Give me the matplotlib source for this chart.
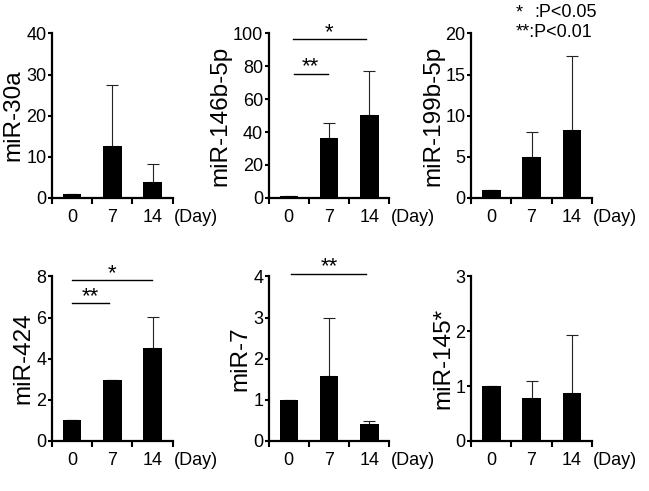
import matplotlib.pyplot as plt
from matplotlib.ticker import FixedLocator

plt.rcParams['font.family'] = ['Liberation Sans', 'DejaVu Sans']

DAYS = ["0", "7", "14"]

names = ["miR-30a", "miR-146b-5p", "miR-199b-5p", "miR-424", "miR-7", "miR-145*"]
means = [
    [1.0, 12.7, 3.9],
    [1.0, 36.5, 50.5],
    [1.0, 5.0, 8.3],
    [1.0, 2.94, 4.5],
    [1.0, 1.58, 0.40],
    [1.0, 0.78, 0.87],
]
errs = [
    [0.0, 14.8, 4.3],
    [0.0, 9.0, 26.5],
    [0.0, 3.0, 9.0],
    [0.0, 0.0, 1.55],
    [0.0, 1.40, 0.08],
    [0.0, 0.32, 1.06],
]
ymax = [40, 100, 20, 8, 4, 3]
ystep = [10, 20, 5, 2, 1, 1]

# significance brackets: (x0, x1, y, label)
sig = {
    1: [(0.12, 0.97, 75.5, "**"), (0.10, 1.92, 96.3, "*")],
    3: [(-0.01, 0.93, 6.69, "**"), (-0.01, 1.98, 7.82, "*")],
    4: [(0.06, 1.93, 4.06, "**")],
}

fig = plt.figure(figsize=(6.49, 4.91), dpi=100)

lefts = [0.080, 0.414, 0.726]
bottoms = [0.597, 0.102]
w, h = 0.186, 0.335

for i in range(6):
    ax = fig.add_axes([lefts[i % 3], bottoms[i // 3], w, h])
    x = range(len(DAYS))
    ax.bar(x, means[i], width=0.46, color="black", zorder=2)
    ax.errorbar(x, means[i], yerr=[[0, 0, 0], errs[i]], fmt="none",
                ecolor="#222222", elinewidth=0.8, capsize=4.5, capthick=0.8, zorder=1)

    ax.set_xlim(-0.5, 2.5)
    ax.set_ylim(0, ymax[i])
    ax.set_yticks(range(0, ymax[i] + 1, ystep[i]))
    ax.set_xticks(list(x))
    ax.set_xticklabels(DAYS)
    ax.xaxis.set_minor_locator(FixedLocator([-0.5, 0.5, 1.5, 2.5]))

    for s in ["top", "right"]:
        ax.spines[s].set_visible(False)
    for s in ["left", "bottom"]:
        ax.spines[s].set_linewidth(1.6)

    ax.tick_params(axis="y", labelsize=13, width=1.5, length=3, pad=1)
    ax.tick_params(axis="x", which="major", labelsize=13, length=0, pad=8)
    ax.tick_params(axis="x", which="minor", width=1.5, length=4, direction="out")

    ax.set_ylabel(names[i], fontsize=17.5, labelpad=1)

    ax.annotate("(Day)", xy=(1, 0), xycoords="axes fraction", xytext=(1, -8),
                textcoords="offset points", ha="left", va="top", fontsize=13)

    for x0, x1, y, lab in sig.get(i, []):
        ax.plot([x0, x1], [y, y], color="black", lw=1.0, clip_on=False)
        ax.annotate(lab, xy=((x0 + x1) / 2, y), xytext=(0, 1),
                    textcoords="offset points", ha="center", va="baseline",
                    fontsize=16, annotation_clip=False)

fig.text(0.794, 0.974, "*", fontsize=13, ha="left", va="center")
fig.text(0.824, 0.974, ":P<0.05", fontsize=13, ha="left", va="center")
fig.text(0.794, 0.933, "**:P<0.01", fontsize=13, ha="left", va="center")

fig.savefig("out.png", dpi=100)
